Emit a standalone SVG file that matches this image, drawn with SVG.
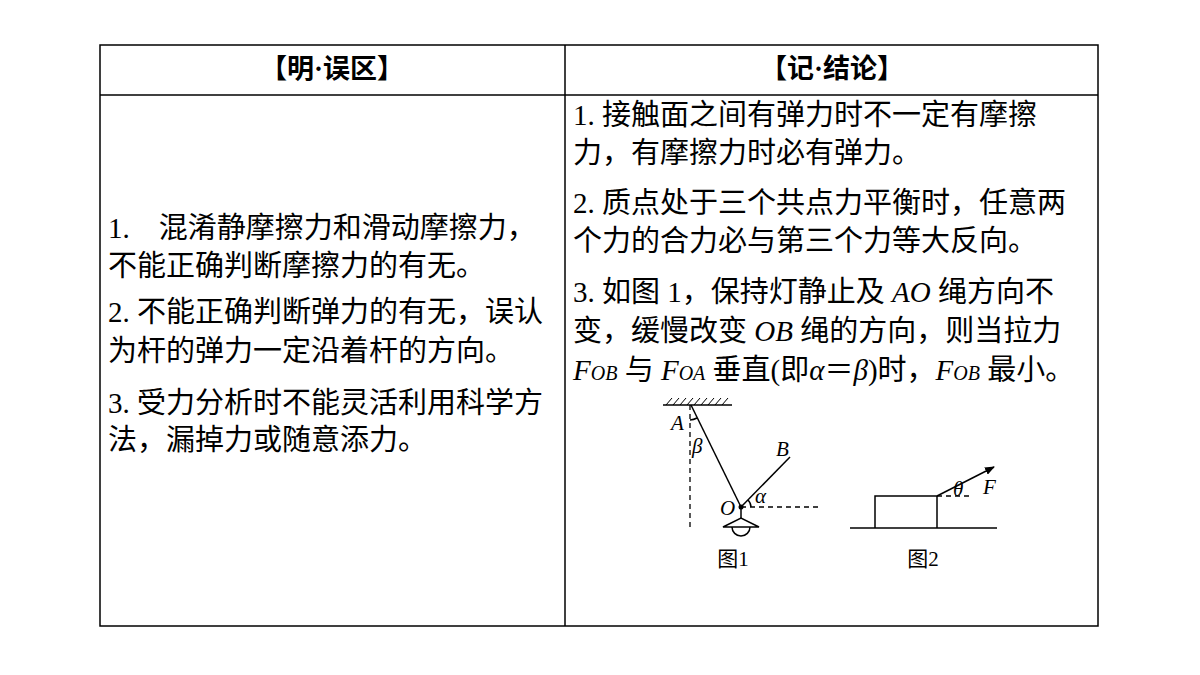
<svg xmlns="http://www.w3.org/2000/svg" width="1200" height="675" viewBox="0 0 1200 675">
<style>
.t{font-family:"Liberation Serif","Noto Sans CJK SC",serif;font-size:29px;fill:#000}
.h{font-family:"Liberation Serif","Noto Sans CJK SC",serif;font-size:27px;fill:#000}
.s{font-family:"Liberation Serif","Noto Sans CJK SC",serif;font-size:21px;fill:#000}
.i{font-style:italic}
.ln{stroke:#000;stroke-width:1.5;fill:none}
.d{stroke:#000;stroke-width:1.3;fill:none;stroke-dasharray:5,4}
</style>
<defs><marker id="ar" markerWidth="10" markerHeight="8" refX="9" refY="4" orient="auto" markerUnits="userSpaceOnUse"><path d="M0,0 L10,4 L0,8 Z" fill="#000"/></marker></defs>
<rect width="1200" height="675" fill="#fff"/>
<g id="table">
<rect x="100" y="45" width="998" height="581" class="ln"/>
<line x1="565" y1="45" x2="565" y2="626" class="ln"/>
<line x1="100" y1="95" x2="1098" y2="95" class="ln"/>
<text x="332" y="78" class="h" text-anchor="middle" font-weight="bold">【明·误区】</text>
<text x="832" y="78" class="h" text-anchor="middle" font-weight="bold">【记·结论】</text>
</g>
<g id="left">
<text x="108" y="238" class="t" xml:space="preserve">1.　混淆静摩擦力和滑动摩擦力，</text>
<text x="108" y="276" class="t">不能正确判断摩擦力的有无。</text>
<text x="108" y="322" class="t">2. 不能正确判断弹力的有无，误认</text>
<text x="108" y="361" class="t">为杆的弹力一定沿着杆的方向。</text>
<text x="108" y="413" class="t">3. 受力分析时不能灵活利用科学方</text>
<text x="108" y="450" class="t">法，漏掉力或随意添力。</text>
</g>
<g id="right">
<text x="573" y="125" class="t">1. 接触面之间有弹力时不一定有摩擦</text>
<text x="573" y="163" class="t">力，有摩擦力时必有弹力。</text>
<text x="573" y="213" class="t">2. 质点处于三个共点力平衡时，任意两</text>
<text x="573" y="251" class="t">个力的合力必与第三个力等大反向。</text>
<text x="573" y="302" class="t">3. 如图 1，保持灯静止及 <tspan class="i">AO</tspan> 绳方向不</text>
<text x="573" y="341" class="t">变，缓慢改变 <tspan class="i">OB</tspan> 绳的方向，则当拉力</text>
<text x="573" y="380" class="t"><tspan class="i">F</tspan><tspan class="i" font-size="20">OB</tspan> 与 <tspan class="i">F</tspan><tspan class="i" font-size="20">OA</tspan> 垂直(即<tspan class="i">α</tspan>＝<tspan class="i">β</tspan>)时，<tspan class="i">F</tspan><tspan class="i" font-size="20">OB</tspan> 最小。</text>
</g>
<g id="fig1">
<line x1="663" y1="405" x2="732" y2="405" class="ln"/>
<path d="M666,405 l6,-7 M673,405 l6,-7 M680,405 l6,-7 M687,405 l6,-7 M694,405 l6,-7 M701,405 l6,-7 M708,405 l6,-7 M715,405 l6,-7 M722,405 l6,-7" stroke="#000" stroke-width="1"/>
<line x1="690" y1="405" x2="690" y2="530" class="d"/>
<line x1="691" y1="405" x2="741" y2="507" class="ln"/>
<line x1="741" y1="507" x2="790" y2="457" class="ln"/>
<line x1="741" y1="507" x2="820" y2="507" class="d"/>
<circle cx="741" cy="507" r="2.5" fill="#000"/>
<path d="M690,420 A15,15 0 0 0 697,418" class="ln" stroke-width="1"/>
<path d="M751,507 A10,10 0 0 0 748,500" class="ln" stroke-width="1"/>
<line x1="741" y1="507" x2="741" y2="518" class="ln"/>
<path d="M723,527 L741,518 L759,527 Z" class="ln"/>
<path d="M732,527 A9,9 0 0 0 750,527" class="ln"/>
<text x="671" y="430" class="s i">A</text>
<text x="692" y="453" class="s i">β</text>
<text x="776" y="456" class="s i">B</text>
<text x="720" y="515" class="s i">O</text>
<text x="755" y="503" class="s i">α</text>
<text x="733" y="566" class="s" text-anchor="middle">图1</text>
</g>
<g id="fig2">
<line x1="850" y1="528" x2="997" y2="528" class="ln"/>
<path d="M875,528 V496 H937 V528" class="ln"/>
<line x1="937" y1="496" x2="970" y2="496" class="d"/>
<line x1="937" y1="496" x2="994" y2="467" class="ln" marker-end="url(#ar)"/>
<text x="953" y="496" class="s i">θ</text>
<text x="983" y="494" class="s i">F</text>
<text x="923" y="566" class="s" text-anchor="middle">图2</text>
</g>
</svg>
